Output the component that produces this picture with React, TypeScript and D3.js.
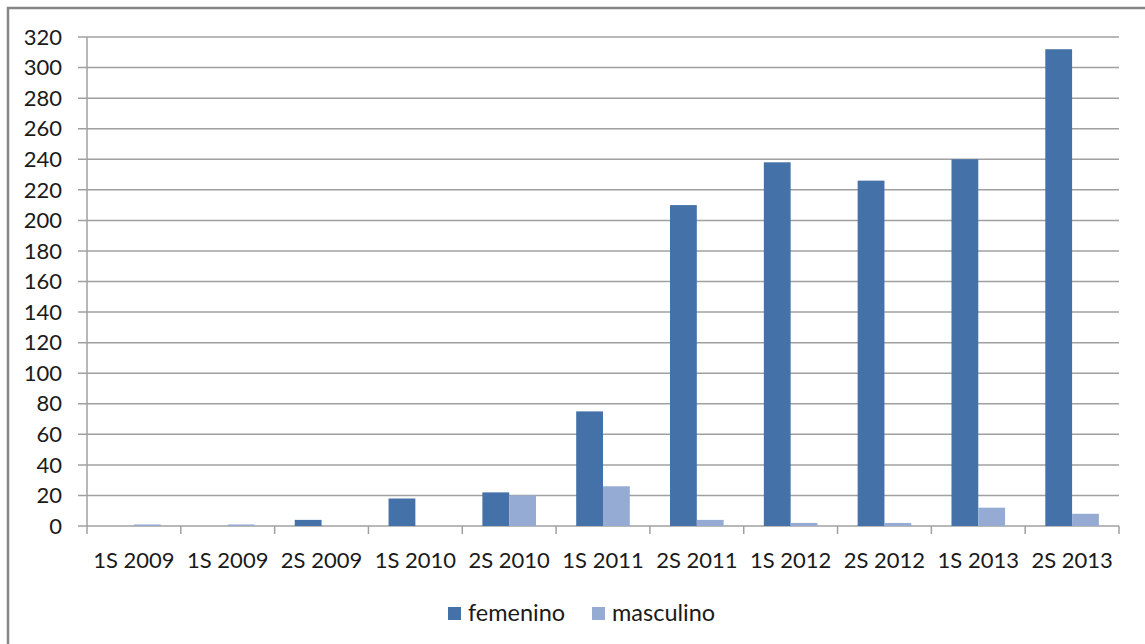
import React from "react";
import * as d3 from "d3";

const categories = ["1S 2009", "1S 2009", "2S 2009", "1S 2010", "2S 2010", "1S 2011", "2S 2011", "1S 2012", "2S 2012", "1S 2013", "2S 2013"];
const femenino = [0, 0, 4, 18, 22, 75, 210, 238, 226, 240, 312];
const masculino = [1, 1, 0, 0, 20, 26, 4, 2, 2, 12, 8];
const seriesNames = ["femenino", "masculino"];
const yTicks = [0, 20, 40, 60, 80, 100, 120, 140, 160, 180, 200, 220, 240, 260, 280, 300, 320];

const W = 1145;
const H = 644;
const left = 87;
const right = 1119;
const top = 37;
const bottom = 526;
const colors = ["#4472A8", "#95ABD3"];
const font = "Lato, 'Open Sans', sans-serif";

export default function App() {
  const x = d3.scaleBand<number>().domain(d3.range(categories.length)).range([left, right]).paddingInner(0).paddingOuter(0);
  const y = d3.scaleLinear().domain([0, 320]).range([bottom, top]);
  const bw = x.bandwidth() / 3.5;
  const sub = d3.scaleBand<string>().domain(seriesNames).range([0, 2 * bw]);
  const data = [femenino, masculino];

  return (
    <svg width={W} height={H} style={{ position: "absolute", left: 0, top: 0, background: "#fff" }}>
      <rect x={8} y={8} width={W + 20} height={H + 20} fill="#fff" stroke="#868686" strokeWidth={2.5} />
      {yTicks.map((t) => (
        <line key={"g" + t} x1={left - 9} x2={right} y1={y(t)} y2={y(t)} stroke="#A0A0A0" strokeWidth={1.5} />
      ))}
      {yTicks.map((t) => (
        <text key={"t" + t} x={62} y={y(t)} dy="0.35em" textAnchor="end" fontFamily={font} fontSize={22} fill="#1a1a1a">
          {t}
        </text>
      ))}
      <line x1={left} x2={left} y1={top} y2={bottom} stroke="#A0A0A0" strokeWidth={1.5} />
      {d3.range(categories.length + 1).map((i) => {
        const xx = i < categories.length ? (x(i) as number) : right;
        return <line key={"ct" + i} x1={xx} x2={xx} y1={bottom} y2={bottom + 8} stroke="#A0A0A0" strokeWidth={1.5} />;
      })}
      {data.map((vals, s) =>
        vals.map((v, i) => {
          const x0 = (x(i) as number) + 0.75 * bw + (sub(seriesNames[s]) as number);
          return (
            <rect key={s + "-" + i} x={x0} y={y(v)} width={bw} height={bottom - y(v)} fill={colors[s]} />
          );
        })
      )}
      {categories.map((c, i) => (
        <text key={"c" + i} x={(x(i) as number) + x.bandwidth() / 2} y={560} dy="0.35em" textAnchor="middle" fontFamily={font} fontSize={22} fill="#1a1a1a">
          {c}
        </text>
      ))}
      {seriesNames.map((n, s) => {
        const lx = [448, 592][s];
        return (
          <g key={n}>
            <rect x={lx} y={607} width={13} height={13} fill={colors[s]} />
            <text x={lx + 20} y={613} dy="0.35em" fontFamily={font} fontSize={23.5} fill="#1a1a1a">
              {n}
            </text>
          </g>
        );
      })}
    </svg>
  );
}
